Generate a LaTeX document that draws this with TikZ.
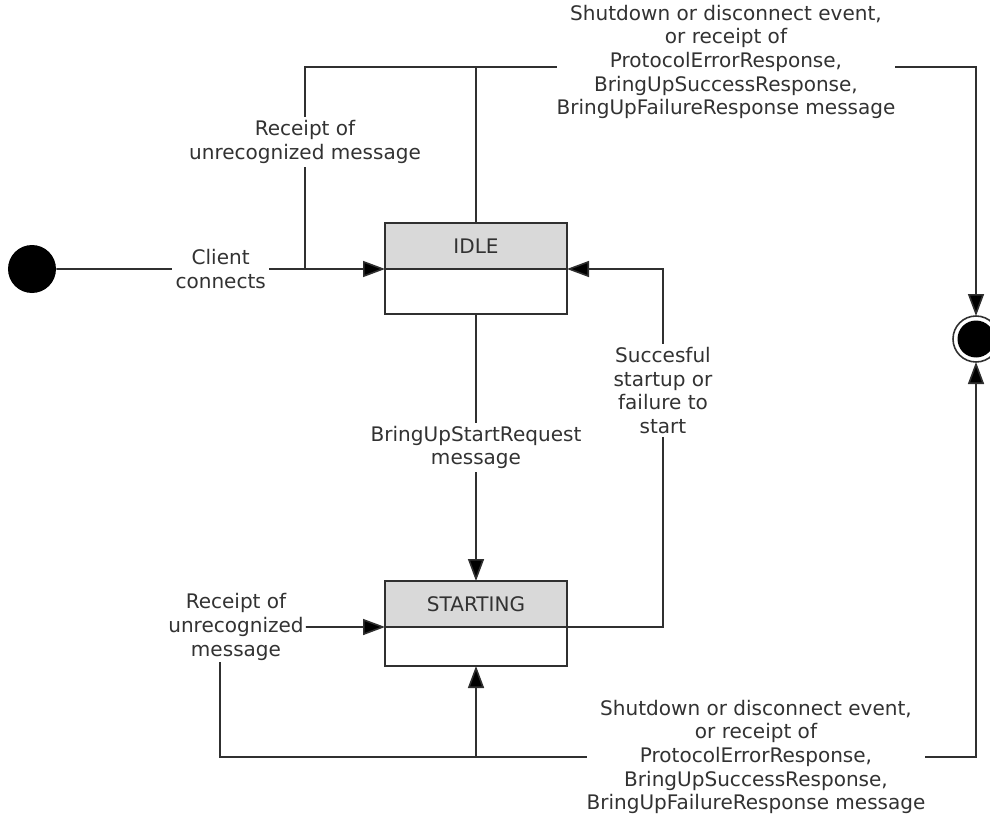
\documentclass[tikz,border=0pt]{standalone}
\usepackage{fontspec}
\setmainfont{DejaVu Sans}
\usetikzlibrary{positioning, arrows.meta}
\definecolor{LineGray}{RGB}{48,48,48}
\definecolor{TextGray}{RGB}{50,50,50}
\definecolor{StateGray}{RGB}{217,217,217}

\begin{document}
\begin{tikzpicture}
        \tikzstyle{wire} = [draw=LineGray, line width=0.9pt]
        \tikzstyle{arr} = [wire, -{Triangle[length=0.44cm, width=0.32cm, fill=black]}]
        \tikzstyle{state} = [rectangle, draw=LineGray, fill=StateGray, line width=0.9pt,
          minimum width=3.64cm, minimum height=0.92cm, inner sep=0pt, outer sep=0pt,
          font=\fontsize{11.4}{13.4}\selectfont, text=TextGray]
        \tikzstyle{statebody} = [rectangle, draw=LineGray, fill=white, line width=0.9pt,
          minimum width=3.64cm, inner sep=0pt, outer sep=0pt]
        \tikzstyle{lbl} = [fill=white, align=center, inner sep=2pt,
          font=\fontsize{11.4}{13.4}\selectfont, text=TextGray]
        \tikzstyle{initstate} = [circle, fill=black, minimum size=0.96cm, inner sep=0pt]
        \tikzstyle{endstate} = [circle, draw=LineGray, line width=0.9pt, minimum size=0.92cm,
          inner sep=0pt, outer sep=0pt,
          path picture={\fill[black] (path picture bounding box.center) circle (0.37cm);}]

        \useasboundingbox (0,0) rectangle (19.8,16.44);

        \node[initstate] (init) at (0.64, 11.06) {};
        \node[state] (idle) at (9.52, 11.52) {IDLE};
        \node[statebody, minimum height=0.9cm, below=0pt of idle] (idlebody) {};
        \node[state] (starting) at (9.52, 4.36) {STARTING};
        \node[statebody, minimum height=0.78cm, below=0pt of starting] (stbody) {};
        \node[endstate] (endst) at (19.52, 9.66) {};

        \coordinate (topL) at (6.1, 15.1);
        \coordinate (topR) at (19.52, 15.1);
        \coordinate (botL) at (4.4, 1.3);
        \coordinate (botR) at (19.52, 1.3);
        \coordinate (rt) at (13.26, 0);

        \node[lbl, inner sep=1pt] (rcpt2) at (4.72, 3.90) {Receipt of\\unrecognized\\message};

        \draw[arr] (init) -- node[lbl]{Client\\connects} (idle.south west);
        \draw[wire] (idle.north) -- (idle.north |- topL) -- (topL)
          -- node[lbl, pos=0.37]{Receipt of\\unrecognized message} (topL |- idle.south west);
        \draw[arr] (idle.north |- topL) -- node[lbl, inner sep=0pt, yshift=0.1cm]{Shutdown or disconnect event,\\or receipt of\\ProtocolErrorResponse,\\BringUpSuccessResponse,\\BringUpFailureResponse message} (topR) -- (endst.north);

        \draw[arr] (idlebody) -- node[lbl]{BringUpStartRequest\\message} (starting);
        \draw[arr] (starting.south east) -- (rt |- starting.south east)
          -- node[lbl, pos=0.66]{Succesful\\startup or\\failure to\\start} (rt |- idle.south east) -- (idle.south east);

        \draw[arr] (stbody.south |- botL) -- (stbody.south);
        \draw[arr] (stbody.south |- botL) -- node[lbl, inner sep=0pt, pos=0.56]{Shutdown or disconnect event,\\or receipt of\\ProtocolErrorResponse,\\BringUpSuccessResponse,\\BringUpFailureResponse message} (botR) -- (endst.south);
        \draw[wire] (stbody.south |- botL) -- (botL) -- (botL |- rcpt2.south);
        \draw[arr] (rcpt2) -- (starting.south west);
\end{tikzpicture}
\end{document}
